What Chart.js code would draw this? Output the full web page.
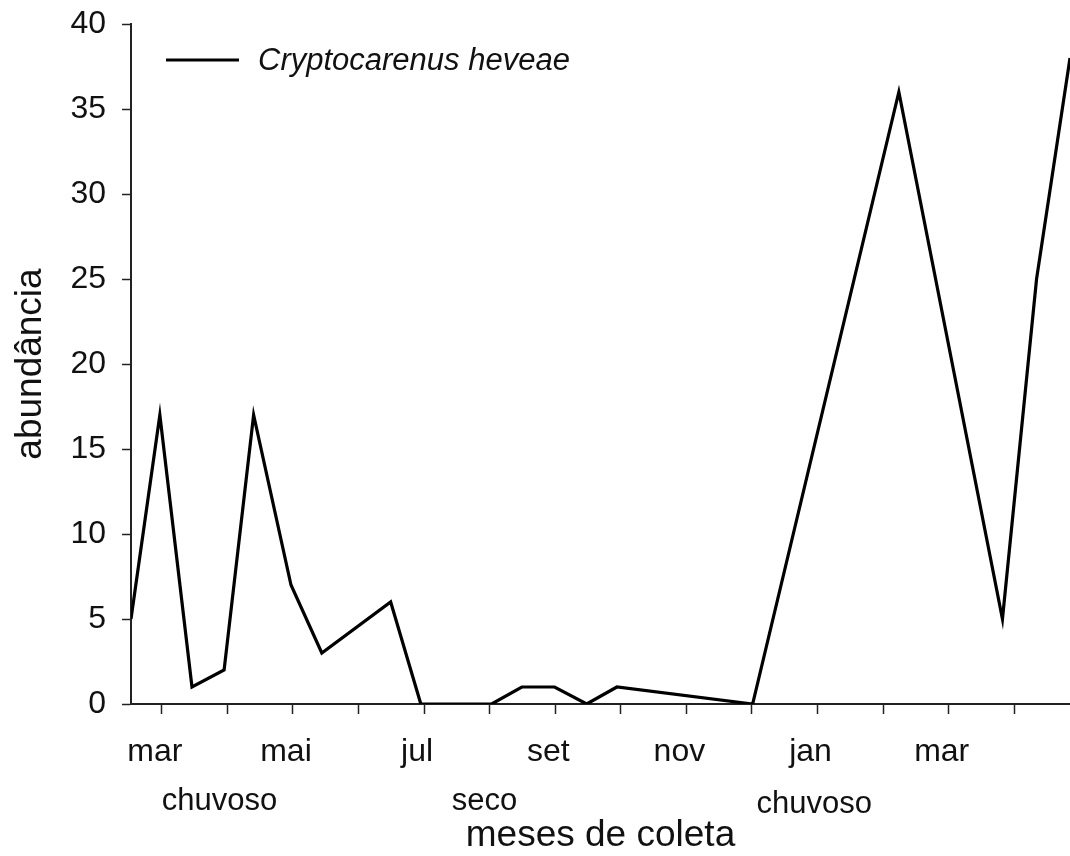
<!DOCTYPE html>
<html>
<head>
<meta charset="utf-8">
<script src="https://cdn.jsdelivr.net/npm/chart.js@4"></script>
<style>
html, body { margin:0; padding:0; background:#fff; }
#forChart { width:1070px; height:856px; }
</style>
</head>
<body>
<div id="forChart"><canvas id="myChart" width="1070" height="856"></canvas></div>
<script>
// meses contados a partir de mar (primeiro ano) = 0
const coletaMes = [-0.47, -0.03, 0.46, 0.95, 1.40, 1.97, 2.44, 3.49, 3.95, 5.03, 5.49, 5.99, 6.48, 6.94, 9.01, 11.24, 12.82, 13.34, 13.85];
const abundancia = [5, 17, 1, 2, 17, 7, 3, 6, 0, 0, 1, 1, 0, 1, 0, 36, 5, 25, 38];

const tickMeses = [0, 1, 2, 3, 4, 5, 6, 7, 8, 9, 10, 11, 12, 13];
const tickRotulos = ['mar', '', 'mai', '', 'jul', '', 'set', '', 'nov', '', 'jan', '', 'mar', ''];

const estacoes = ['chuvoso', 'seco', 'chuvoso'];
const estacaoMes = [0.88, 4.92, 9.95];

const serieNome = 'Cryptocarenus heveae';
const fonte = 'Arial, "Liberation Sans", sans-serif';

window.onload = function() {
    makeLineChart("myChart");
}

function makeLineChart(element) {

    const pontos = coletaMes.map(function(m, i) { return {x: m, y: abundancia[i]}; });

    const extras = {
        id: 'extras',
        afterDraw: function(chart) {
            const ctx = chart.ctx;
            const xs = chart.scales.x;
            ctx.save();
            ctx.fillStyle = '#111';
            ctx.font = '31px ' + fonte;
            ctx.textAlign = 'center';
            ctx.textBaseline = 'alphabetic';
            const ys = [810, 810, 813];
            for (let i = 0; i < estacoes.length; i++) {
                ctx.fillText(estacoes[i], xs.getPixelForValue(estacaoMes[i]), ys[i]);
            }
            // legenda
            ctx.strokeStyle = '#000';
            ctx.lineWidth = 3;
            ctx.beginPath();
            ctx.moveTo(166, 60);
            ctx.lineTo(239, 60);
            ctx.stroke();
            ctx.font = 'italic 31px ' + fonte;
            ctx.textAlign = 'left';
            ctx.fillText(serieNome, 258, 70);
            ctx.restore();
        }
    };

    const config = {
        type: 'line',
        data: {
            datasets: [{
                label: serieNome,
                data: pontos,
                borderColor: '#000',
                borderWidth: 3.2,
                pointRadius: 0,
                tension: 0,
                fill: false
            }]
        },
        options: {
            responsive: false,
            animation: false,
            devicePixelRatio: 1,
            layout: { padding: { top: 24, right: 0, bottom: 0, left: 0 } },
            plugins: { legend: { display: false }, tooltip: { enabled: false } },
            scales: {
                x: {
                    type: 'linear',
                    position: 'bottom',
                    min: -0.47,
                    max: 13.85,
                    afterBuildTicks: function(s) { s.ticks = tickMeses.map(function(v) { return {value: v}; }); },
                    afterFit: function(s) {
                        s.height = 152;
                        s.paddingLeft = 0;
                        s.paddingRight = 0;
                    },
                    ticks: {
                        callback: function(v, i) { return tickRotulos[i]; },
                        autoSkip: false,
                        maxRotation: 0,
                        padding: 19,
                        labelOffset: -7,
                        color: '#111',
                        font: { family: fonte, size: 32 }
                    },
                    grid: { display: true, drawOnChartArea: false, drawTicks: true, tickLength: 10, tickColor: '#222', tickWidth: 1.5 },
                    border: { color: '#222', width: 2 },
                    title: {
                        display: true,
                        text: 'meses de coleta',
                        color: '#111',
                        font: { family: fonte, size: 37, lineHeight: 1 },
                        padding: { top: 0, bottom: 2 }
                    }
                },
                y: {
                    min: 0,
                    max: 40,
                    afterFit: function(s) {
                        s.width = 131;
                        s.paddingTop = 0;
                        s.paddingBottom = 0;
                    },
                    ticks: {
                        stepSize: 5,
                        padding: 16,
                        color: '#111',
                        font: { family: fonte, size: 32 }
                    },
                    grid: { display: true, drawOnChartArea: false, drawTicks: true, tickLength: 9, tickColor: '#222', tickWidth: 1.5 },
                    border: { color: '#222', width: 2 },
                    title: {
                        display: true,
                        text: 'abundância',
                        color: '#111',
                        font: { family: fonte, size: 37, lineHeight: 1 },
                        padding: { top: 12, bottom: 0 }
                    }
                }
            }
        },
        plugins: [extras]
    };

    const myChart = new Chart(document.getElementById(element), config);
}
</script>
</body>
</html>
